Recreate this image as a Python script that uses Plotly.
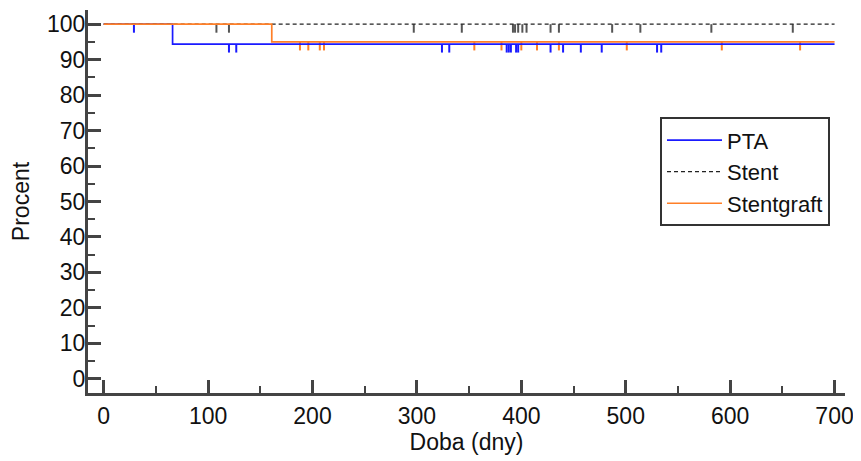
import plotly.graph_objects as go

# ---- data ----
end_day = 700
groups = ["PTA", "Stent", "Stentgraft"]

pta_event_days = [66]
pta_levels = [100, 94.4]
pta_censored = [29, 120, 127, 324, 331, 386, 388, 390, 395, 397, 428, 440, 457, 477, 530, 534]

stent_event_days = []
stent_levels = [100]
stent_censored = [108, 120, 297, 343, 392, 394, 397, 401, 405, 428, 436, 487, 514, 582, 660]

sg_event_days = [161]
sg_levels = [100, 95.0]
sg_censored = [188, 196, 207, 211, 355, 381, 400, 415, 436, 501, 592, 667]

x_ticks = [0, 100, 200, 300, 400, 500, 600, 700]
y_ticks = [0, 10, 20, 30, 40, 50, 60, 70, 80, 90, 100]

FONT = "Liberation Sans, Arial, sans-serif"
TICK_DROP = 2.4  # censor mark length in percent units


def step_xy(event_days, levels):
    xs = [0] + list(event_days) + [end_day]
    ys = list(levels) + [levels[-1]]
    return xs, ys


def level_at(day, event_days, levels):
    lv = levels[0]
    for d, l in zip(event_days, levels[1:]):
        if day >= d:
            lv = l
    return lv


def censor_xy(days, event_days, levels):
    xs, ys = [], []
    for d in days:
        lv = level_at(d, event_days, levels)
        xs += [d, d, None]
        ys += [lv, lv - TICK_DROP, None]
    return xs, ys


series = [
    ("PTA", pta_event_days, pta_levels, pta_censored, "#1a1aff", "#1a1aff", "solid", 1.7),
    ("Stent", stent_event_days, stent_levels, stent_censored, "#222222", "#555555", "4px,3px", 1.3),
    ("Stentgraft", sg_event_days, sg_levels, sg_censored, "#ff7f27", "#ff7f27", "solid", 1.7),
]

fig = go.Figure()

for name, ev, lv, cens, col, ccol, dash, w in series:
    cx, cy = censor_xy(cens, ev, lv)
    fig.add_trace(go.Scatter(x=cx, y=cy, mode="lines", showlegend=False,
                             line=dict(color=ccol, width=2), hoverinfo="skip"))

for name, ev, lv, cens, col, ccol, dash, w in series:
    sx, sy = step_xy(ev, lv)
    fig.add_trace(go.Scatter(x=sx, y=sy, mode="lines", name=name,
                             line=dict(color=col, width=w, dash=dash, shape="hv")))

axis_common = dict(
    showgrid=False, zeroline=False, showline=True, linecolor="#444444", linewidth=3,
    ticks="inside", ticklen=13, tickwidth=3, tickcolor="#444444",
    tickfont=dict(family=FONT, size=23, color="#111111"),
    automargin=False,
)

fig.update_xaxes(
    range=[-15, 710], tickvals=x_ticks, ticktext=[str(v) for v in x_ticks],
    title=dict(text="Doba (dny)", font=dict(family=FONT, size=23, color="#111111"), standoff=4),
    minor=dict(dtick=50, tick0=0, ticks="inside", ticklen=7, tickwidth=2, tickcolor="#444444"),
    **axis_common,
)
fig.update_yaxes(
    range=[-4, 104], tickvals=y_ticks, ticktext=[str(v) for v in y_ticks],
    title=dict(text="Procent", font=dict(family=FONT, size=23, color="#111111"), standoff=12),
    minor=dict(dtick=5, tick0=0, ticks="inside", ticklen=7, tickwidth=2, tickcolor="#444444"),
    ticklabelstandoff=-5,
    **axis_common,
)

# the page places the figure 8px from the window's top-left corner
fig.update_layout(
    width=853, height=453,
    margin=dict(l=80, r=16, t=2, b=68),
    paper_bgcolor="white", plot_bgcolor="white",
    font=dict(family=FONT, size=22, color="#111111"),
    legend=dict(
        x=0.7556, y=0.72, xanchor="left", yanchor="top",
        bgcolor="white", bordercolor="#333333", borderwidth=2,
        font=dict(family=FONT, size=22, color="#111111"),
        tracegroupgap=0, itemwidth=55,
    ),
    showlegend=True,
)

fig.write_html("out.html")
